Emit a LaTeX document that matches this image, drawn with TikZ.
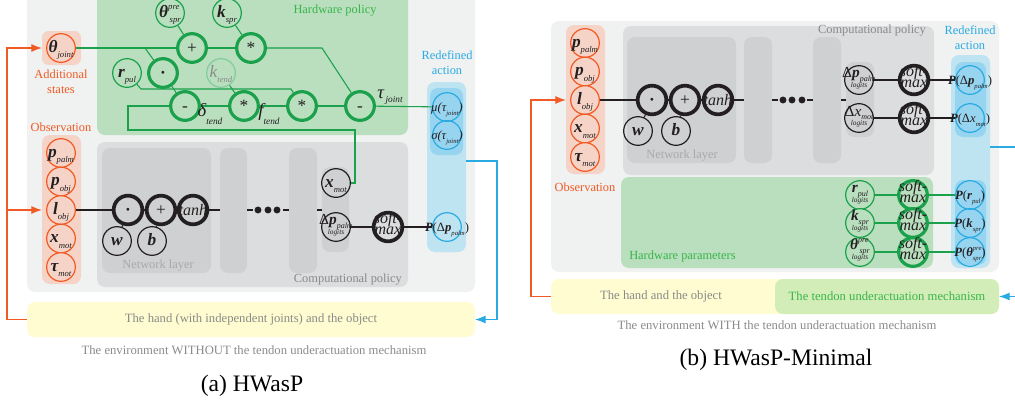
\documentclass[tikz,border=0pt]{standalone}
\usepackage{fontspec}
\setmainfont{Liberation Serif}
\usetikzlibrary{arrows.meta,fit}
\definecolor{panelgray}{HTML}{F0F1F1}
\definecolor{compgray}{HTML}{DCDDDF}
\definecolor{layergray}{HTML}{CFD0D2}
\definecolor{hwbg}{HTML}{B9DFBF}
\definecolor{hwgreen}{HTML}{1BA14B}
\definecolor{hwtext}{HTML}{39B54A}
\definecolor{obsbg}{HTML}{F5D3C6}
\definecolor{orng}{HTML}{F15A24}
\definecolor{bluebg}{HTML}{BEE3F1}
\definecolor{bluein}{HTML}{97D4EF}
\definecolor{bluel}{HTML}{29ABE2}
\definecolor{yellowbg}{HTML}{FEFCD0}
\definecolor{envgreen}{HTML}{D3EDB8}
\definecolor{txtgray}{HTML}{8A8A8A}
\definecolor{lgray}{HTML}{A7A9AC}
\definecolor{ink}{HTML}{231F20}
\pgfdeclarelayer{bg}
\pgfdeclarelayer{edges}
\pgfsetlayers{bg,edges,main}
\newcommand\cc[1]{\makebox[0pt]{\smash{\raisebox{-0.7ex}{#1}}}}
\newcommand\subf{\fontsize{6.5}{6.5}\selectfont\mdseries\itshape}
\newcommand\mainf{\fontsize{13}{13}\selectfont\bfseries\itshape}
\newcommand\sy[2]{{\mainf #1}\raisebox{-0.9ex}{\subf #2}}
\newcommand\sysp[3]{{\mainf #1}\rlap{\raisebox{1.3ex}{\subf #2}}\raisebox{-0.9ex}{\subf\,#3}}
\newcommand\syl[2]{{\fontsize{11.5}{11.5}\selectfont\bfseries\itshape #1}\raisebox{-0.6ex}{\fontsize{6}{6}\selectfont\mdseries\itshape #2}}
\newcommand\sylsp[3]{{\fontsize{11.5}{11.5}\selectfont\bfseries\itshape #1}\rlap{\raisebox{1.2ex}{\fontsize{6}{6}\selectfont\mdseries\itshape #2}}\raisebox{-0.6ex}{\fontsize{6}{6}\selectfont\mdseries\itshape\,#3}}
\newcommand\syb[2]{{\fontsize{9.5}{9.5}\selectfont\bfseries\itshape #1}\raisebox{-0.7ex}{\fontsize{5}{5}\selectfont\mdseries\itshape #2}}
\newcommand\lgt[1]{\makebox[0pt]{\smash{\raisebox{-0.5ex}{\begin{tabular}[c]{@{}c@{}}#1\\[-5pt]{\fontsize{5.5}{5.5}\selectfont\itshape logits}\end{tabular}}}}}
\newcommand\sft{\makebox[0pt]{\smash{\raisebox{-0.3ex}{\fontsize{12}{8.5}\selectfont\itshape\begin{tabular}[c]{@{}c@{}}soft-\\max\end{tabular}}}}}
\newcommand\ppr[1]{\cc{\fontsize{9.5}{9.5}\selectfont{\bfseries\itshape P}(#1)}}
\newcommand\dlt{{\fontsize{11.5}{11.5}\selectfont Δ}}
\newcommand\dls{{\fontsize{9.5}{9.5}\selectfont Δ}}
\begin{document}
\begin{tikzpicture}[x=0.75pt,y=-0.75pt,
  tcirc/.style={circle, draw, line width=0.9pt, minimum size=21.5pt, inner sep=0pt, text=ink},
  opc/.style={circle, draw, minimum size=21.5pt, inner sep=0pt, text=ink, font=\fontsize{13}{13}\selectfont},
  gop/.style={opc, draw=hwgreen, line width=2.4pt, fill=hwbg},
  bop/.style={opc, draw=ink, line width=2.8pt},
  gthin/.style={tcirc, draw=hwgreen, fill=hwbg},
  othin/.style={tcirc, draw=orng, fill=obsbg},
  bthin/.style={tcirc, draw=ink},
  blthin/.style={tcirc, draw=bluel},
  reg/.style={inner sep=0pt, outer sep=0pt, rounded corners=6pt, draw=none},
  lab/.style={font=\fontsize{9.3}{11.2}\selectfont, inner sep=0pt},
  txtn/.style={font=\fontsize{9.5}{10}\selectfont, inner sep=0pt},
  captext/.style={font=\fontsize{17.7}{19}\selectfont, inner sep=0pt},
  gline/.style={draw=hwgreen, line width=0.8pt},
  kline/.style={draw=ink, line width=0.8pt},
  arrowtip/.style={-{Latex[length=8pt,width=6pt]}},
  oline/.style={draw=orng, line width=0.9pt},
  bline/.style={draw=bluel, line width=0.9pt},
  dotn/.style={circle, fill=ink, inner sep=0pt, minimum size=5.2pt}]
\useasboundingbox (0,0) rectangle (1015,404);

% ================= (a) =================
\begin{pgfonlayer}{bg}
\node[reg, fill=panelgray, fit={(27,-12) (475,292)}] (panelA) {};
\node[reg, fill=hwbg, fit={(97,-12) (408,135)}] (hwA) {};
\node[reg, fill=obsbg, rounded corners=5pt, fit={(42,31) (81,65)}] (thJbox) {};
\node[reg, fill=compgray, fit={(97,142) (408,287)}] (compA) {};
\node[reg, fill=layergray, fit={(102,148) (211,273)}] (layA1) {};
\node[reg, fill=layergray, fit={(220,148) (247,273)}] (layA2) {};
\node[reg, fill=layergray, fit={(289,148) (317,273)}] (layA3) {};
\node[reg, fill=layergray, fit={(322,167) (349,252)}] (colA) {};
\node[reg, fill=obsbg, fit={(42,135) (81,284)}] (obsA) {};
\node[reg, fill=bluebg, fit={(427,82) (466,252)}] (blueA) {};
\node[reg, fill=bluein, fit={(430,88) (463,155)}] (blueAin) {};
\node[reg, fill=yellowbg, fit={(27,302) (475,337)}] (yelA) {};
\end{pgfonlayer}

\node[lab, text=hwtext] (hwlabA) at (335,11) {Hardware policy};
\node[lab, text=orng, align=center] (addlab) at (61,82) {Additional\\states};
\node[lab, text=orng] (obslabA) at (61,127) {Observation};
\node[lab, text=lgray] (netA) at (158,266) {Network layer};
\node[lab, text=txtgray, anchor=east] (complabA) at (402,280) {Computational policy};
\node[lab, text=bluel, align=center] (redA) at (447,63) {Redefined\\action};
\node[txtn, text=txtgray] (yelAtxt) at (251,319) {The hand (with independent joints) and the object};
\node[txtn, text=txtgray] (envA) at (254,350) {The environment WITHOUT the tendon underactuation mechanism};
\node[captext] (capA) at (252,386) {(a) HWasP};

% circles (a)
\node[othin] (thJ) at (61,48) {\cc{\sy{θ}{joint}}};
\node[othin] (pA1) at (61,153) {\cc{\sy{p}{palm}}};
\node[othin] (pA2) at (61,181.5) {\cc{\sy{p}{obj}}};
\node[othin] (pA3) at (61,210) {\cc{\sy{l}{obj}}};
\node[othin] (pA4) at (61,238.5) {\cc{\sy{x}{mot}}};
\node[othin] (pA5) at (61,267) {\cc{\sy{τ}{mot}}};

\node[gthin] (thpre) at (170,13) {\cc{\sysp{θ}{pre}{spr}}};
\node[gthin] (kspr) at (227,13) {\cc{\sy{k}{spr}}};
\node[gop] (plus) at (192,48) {\cc{+}};
\node[gop] (mul1) at (251,48) {\cc{*}};
\node[gthin] (rpul) at (127,73) {\cc{\sy{r}{pul}}};
\node[gop] (dotA) at (163,73) {\cc{\textbf{·}}};
\node[gthin, draw=hwgreen!55, text=txtgray] (ktend) at (221,73) {\cc{{\fontsize{13}{13}\selectfont\itshape k}\raisebox{-0.9ex}{\subf tend}}};
\node[gop] (minus1) at (185,106) {\cc{-}};
\node[gop] (mul2) at (244,106) {\cc{*}};
\node[gop] (mul3) at (302,106) {\cc{*}};
\node[gop] (minus2) at (360,106) {\cc{-}};
\node[inner sep=0pt, text=ink] (dlab) at (210,114) {{\fontsize{14}{14}\selectfont\itshape δ}\raisebox{-1.3ex}{\fontsize{7}{7}\selectfont\itshape tend}};
\node[inner sep=0pt, text=ink] (flab) at (269,114) {{\fontsize{14}{14}\selectfont\itshape f}\raisebox{-1.3ex}{\fontsize{7}{7}\selectfont\itshape tend}};
\node[inner sep=0pt, text=ink] (tlab) at (390,97) {{\fontsize{14}{14}\selectfont\itshape τ}\raisebox{-0.6ex}{\fontsize{7}{7}\selectfont\itshape\,joint}};

\node[blthin] (muA) at (447,107) {\cc{\fontsize{9.5}{9.5}\selectfont\itshape μ(τ\raisebox{-0.7ex}{\fontsize{5}{5}\selectfont joint})}};
\node[blthin] (sigA) at (447,135) {\cc{\fontsize{9.5}{9.5}\selectfont\itshape σ(τ\raisebox{-0.7ex}{\fontsize{5}{5}\selectfont joint})}};

\node[bop] (dotNA) at (128,210) {\cc{\textbf{·}}};
\node[bop] (plusNA) at (161,210) {\cc{+}};
\node[bop] (tanhA) at (193,210) {\cc{\fontsize{12}{12}\selectfont\itshape tanh}};
\node[bthin] (wA) at (117,241) {\cc{\sy{w}{}}};
\node[bthin] (bA) at (152,241) {\cc{\sy{b}{}}};
\node[bthin] (xmotA) at (336,183) {\cc{\sy{x}{mot}}};
\node[bthin] (dpA) at (336,227) {\lgt{\dlt\syl{p}{palm}}};
\node[bop] (smA) at (388,227) {\sft};
\node[blthin] (PdpA) at (447,227) {\ppr{\dls\syb{p}{palm}}};
\node[dotn] (dA1) at (258,210) {};
\node[dotn] (dA2) at (268,210) {};
\node[dotn] (dA3) at (277,210) {};

\begin{pgfonlayer}{edges}
\coordinate (br1) at (145,48);
\coordinate (c1) at (322,48);
\coordinate (c2) at (141,89);
\coordinate (c3) at (291,89);
\coordinate (c4) at (355,183);
\coordinate (c5) at (355,130);
\coordinate (c6) at (128,130);
\coordinate (c7) at (128,106);
\draw[gline] (thJ) -- (plus);
\draw[gline] (br1) -- (dotA);
\draw[gline] (thpre) -- (plus);
\draw[gline] (kspr) -- (mul1);
\draw[gline] (plus) -- (mul1);
\draw[gline] (mul1) -- (c1) -- (minus2);
\draw[gline] (dotA) -- (minus1);
\draw[gline] (rpul) -- (c2) -- (c3) -- (mul3);
\draw[gline] (ktend) -- (mul2);
\draw[gline] (minus1) -- (mul2);
\draw[gline] (mul2) -- (mul3);
\draw[gline] (mul3) -- (minus2);
\draw[gline] (minus2) -- (muA);
\draw[gline] (xmotA) -- (c4) -- (c5) -- (c6) -- (c7) -- (minus1);
% black
\coordinate (k1) at (220,210);
\coordinate (k2) at (247,210);
\coordinate (k3) at (253,210);
\coordinate (k4) at (283,210);
\coordinate (k5) at (289,210);
\coordinate (k6) at (317,210);
\coordinate (k7) at (322,210);
\draw[kline] (pA3) -- (dotNA);
\draw[kline] (dotNA) -- (plusNA);
\draw[kline] (plusNA) -- (tanhA);
\draw[kline] (tanhA) -- (k1);
\draw[kline] (k2) -- (k3);
\draw[kline] (k4) -- (k5);
\draw[kline] (k6) -- (k7);
\draw[kline] (wA) -- (dotNA);
\draw[kline] (bA) -- (plusNA);
\draw[kline] (dpA) -- (smA);
\draw[kline] (smA) -- (PdpA);
% orange
\coordinate (oA1) at (7,319.5);
\coordinate (oA2) at (7,48);
\coordinate (oA3) at (7,210);
\draw[oline, arrowtip] (yelA.west) -- (oA1) -- (oA2) -- (thJbox.west);
\draw[oline, arrowtip] (oA3) -- (obsA.west |- pA3);
% blue
\coordinate (bA1) at (497,161);
\coordinate (bA2) at (497,319.5);
\draw[bline, arrowtip] (blueA.east |- bA1) -- (bA1) -- (bA2) -- (yelA.east);
\end{pgfonlayer}

% ================= (b) =================
\begin{pgfonlayer}{bg}
\node[reg, fill=panelgray, fit={(551,21) (999,272)}] (panelB) {};
\node[reg, fill=obsbg, fit={(566,25) (605,174)}] (obsB) {};
\node[reg, fill=compgray, fit={(623,26) (934,175)}] (compB) {};
\node[reg, fill=layergray, fit={(627,37) (736,163)}] (layB1) {};
\node[reg, fill=layergray, fit={(744,37) (772,163)}] (layB2) {};
\node[reg, fill=layergray, fit={(813,37) (841,163)}] (layB3) {};
\node[reg, fill=layergray, fit={(846,62) (874,137)}] (colB) {};
\node[reg, fill=hwbg, fit={(621,177) (933,268)}] (hwB) {};
\node[reg, fill=bluebg, fit={(951,55) (990,268)}] (blueB) {};
\node[reg, fill=bluein, fit={(955,62) (986,137)}] (blueBin1) {};
\node[reg, fill=bluein, fit={(955,180) (986,265)}] (blueBin2) {};
\node[reg, fill=yellowbg, fit={(551,279) (999,314)}] (yelB) {};
\node[reg, fill=envgreen, fit={(775,279) (999,314)}] (envBox) {};
\end{pgfonlayer}

\node[lab, text=txtgray] (complabB) at (872,31) {Computational policy};
\node[lab, text=lgray] (netB) at (682,156) {Network layer};
\node[lab, text=orng] (obslabB) at (585,187) {Observation};
\node[lab, text=hwtext, anchor=west] (hwlabB) at (629,257) {Hardware parameters};
\node[lab, text=bluel, align=center] (redB) at (970,38) {Redefined\\action};
\node[txtn, text=txtgray] (yelBtxt) at (661,296.5) {The hand and the object};
\node[txtn, text=hwtext] (envBtxt) at (887,296.5) {The tendon underactuation mechanism};
\node[txtn, text=txtgray] (envB) at (777,325) {The environment WITH the tendon underactuation mechanism};
\node[captext] (capB) at (776,360) {(b) HWasP-Minimal};

\node[othin] (pB1) at (585,43) {\cc{\sy{p}{palm}}};
\node[othin] (pB2) at (585,71.5) {\cc{\sy{p}{obj}}};
\node[othin] (pB3) at (585,100) {\cc{\sy{l}{obj}}};
\node[othin] (pB4) at (585,128.5) {\cc{\sy{x}{mot}}};
\node[othin] (pB5) at (585,157) {\cc{\sy{τ}{mot}}};

\node[bop] (dotNB) at (652,100) {\cc{\textbf{·}}};
\node[bop] (plusNB) at (685,100) {\cc{+}};
\node[bop] (tanhB) at (718,100) {\cc{\fontsize{12}{12}\selectfont\itshape tanh}};
\node[bthin] (wB) at (638,131) {\cc{\sy{w}{}}};
\node[bthin] (bB) at (676,131) {\cc{\sy{b}{}}};
\node[dotn] (dB1) at (783,100) {};
\node[dotn] (dB2) at (792,100) {};
\node[dotn] (dB3) at (802,100) {};

\node[bthin] (dpB) at (859,80) {\lgt{\dlt\syl{p}{palm}}};
\node[bthin] (dxB) at (859,118) {\lgt{\dlt{\fontsize{11.5}{11.5}\selectfont\itshape x}\raisebox{-0.6ex}{\fontsize{6}{6}\selectfont\itshape mot}}};
\node[bop] (smB1) at (914,80) {\sft};
\node[bop] (smB2) at (914,118) {\sft};
\node[blthin] (PdpB) at (970,80) {\ppr{\dls\syb{p}{palm}}};
\node[blthin] (PdxB) at (970,118) {\ppr{\dls{\fontsize{9.5}{9.5}\selectfont\itshape x}\raisebox{-0.7ex}{\fontsize{5}{5}\selectfont\itshape mot}}};

\node[gthin] (rlB) at (860,195) {\lgt{\syl{r}{pul}}};
\node[gthin] (klB) at (860,223) {\lgt{\syl{k}{spr}}};
\node[gthin] (tlB) at (860,252) {\lgt{\sylsp{θ}{pre}{spr}}};
\node[gop] (smB3) at (913,195) {\sft};
\node[gop] (smB4) at (913,223) {\sft};
\node[gop] (smB5) at (913,252) {\sft};
\node[blthin] (PrB) at (970,195) {\ppr{\syb{r}{pul}}};
\node[blthin] (PkB) at (970,223) {\ppr{\syb{k}{spr}}};
\node[blthin] (PtB) at (970,252) {\ppr{{\fontsize{9.5}{9.5}\selectfont\bfseries\itshape θ}\rlap{\raisebox{1ex}{\fontsize{5}{5}\selectfont\itshape pre}}\raisebox{-0.7ex}{\fontsize{5}{5}\selectfont\itshape spr}}};

\begin{pgfonlayer}{edges}
\coordinate (m1) at (744,100);
\coordinate (m2) at (772,100);
\coordinate (m3) at (778,100);
\coordinate (m4) at (807,100);
\coordinate (m5) at (813,100);
\coordinate (m6) at (841,100);
\coordinate (m7) at (846,100);
\draw[kline] (pB3) -- (dotNB);
\draw[kline] (dotNB) -- (plusNB);
\draw[kline] (plusNB) -- (tanhB);
\draw[kline] (tanhB) -- (m1);
\draw[kline] (m2) -- (m3);
\draw[kline] (m4) -- (m5);
\draw[kline] (m6) -- (m7);
\draw[kline] (wB) -- (dotNB);
\draw[kline] (bB) -- (plusNB);
\draw[kline] (dpB) -- (smB1);
\draw[kline] (smB1) -- (PdpB);
\draw[kline] (dxB) -- (smB2);
\draw[kline] (smB2) -- (PdxB);
\draw[gline] (rlB) -- (smB3);
\draw[gline] (smB3) -- (PrB);
\draw[gline] (klB) -- (smB4);
\draw[gline] (smB4) -- (PkB);
\draw[gline] (tlB) -- (smB5);
\draw[gline] (smB5) -- (PtB);
\coordinate (oB1) at (531,296.5);
\coordinate (oB2) at (531,100);
\draw[oline, arrowtip] (yelB.west) -- (oB1) -- (oB2) -- (obsB.west |- pB3);
\coordinate (bB1) at (1016,147);
\coordinate (bB2) at (1016,296.5);
\draw[bline] (blueB.east |- bB1) -- (bB1);
\draw[bline, arrowtip] (bB2) -- (envBox.east);
\end{pgfonlayer}
\end{tikzpicture}
\end{document}
